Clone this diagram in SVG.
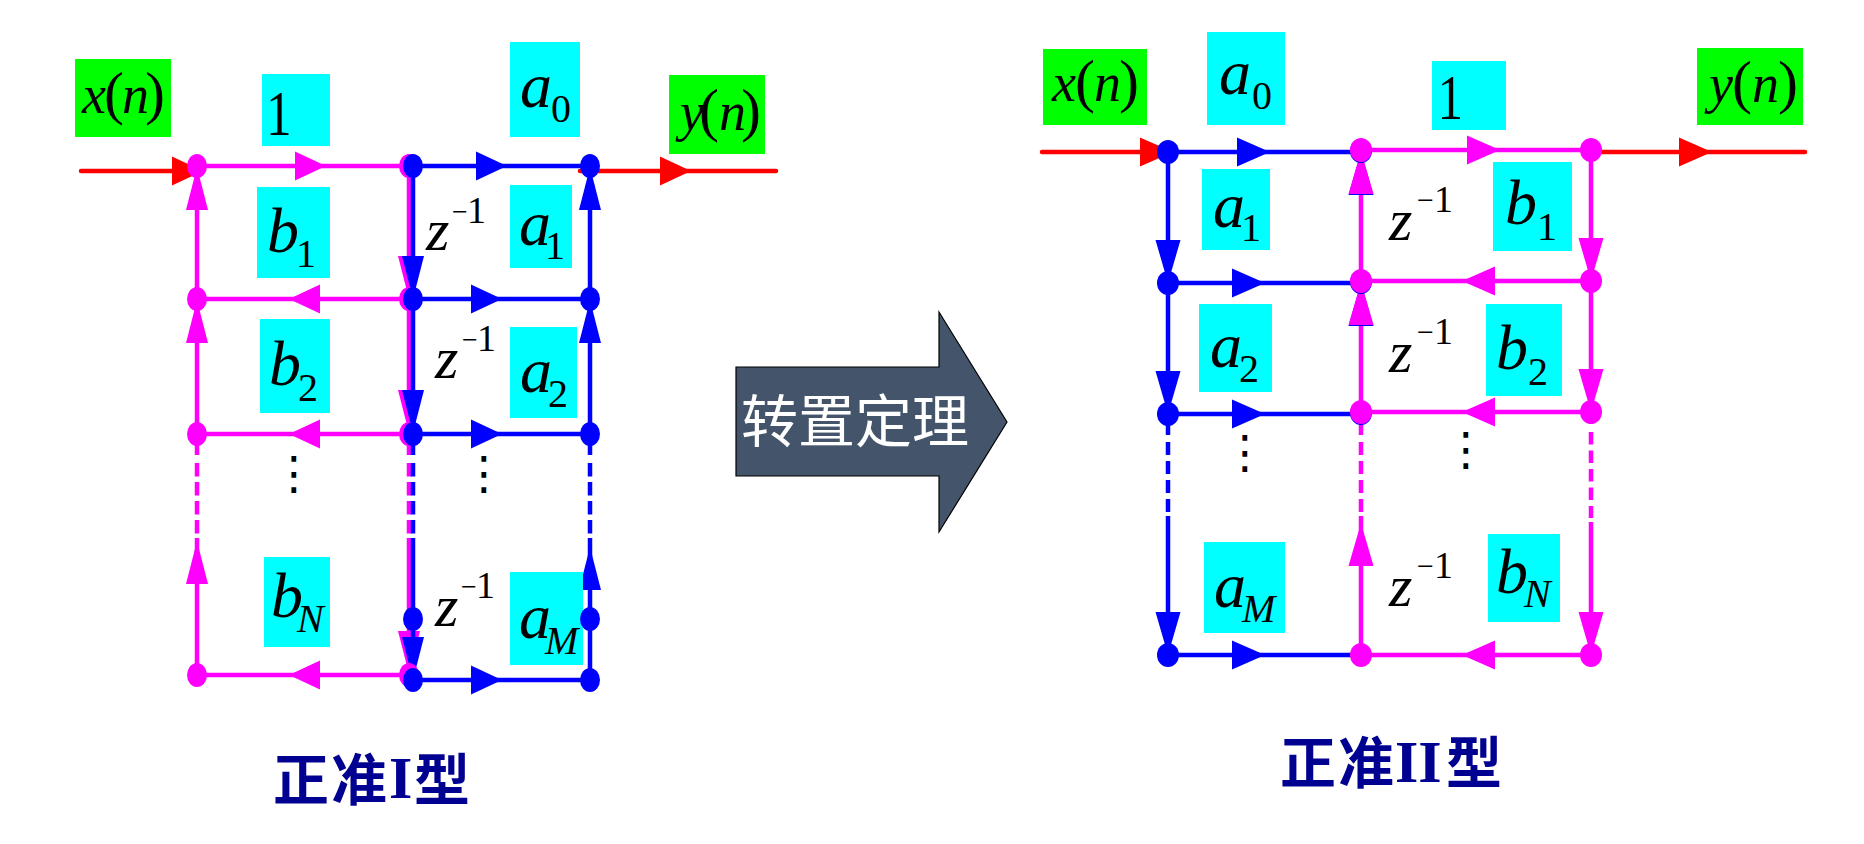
<svg xmlns="http://www.w3.org/2000/svg" width="1864" height="844" viewBox="0 0 1864 844">
<style>
text{font-family:"Liberation Serif","Noto Sans CJK SC",serif;fill:#000}
.m{font-style:italic;font-size:64px}
.n{font-size:64px}
.s{font-size:40px}
.si{font-size:40px;font-style:italic}
.io{font-style:italic;font-size:54px}
.p{font-size:60px;font-style:normal}
.z{font-style:italic;font-size:60px}
.e{font-size:38px}
.mn{font-size:28px}
.mo{font-size:30px}
.d{font-family:"DejaVu Sans",sans-serif;font-size:46px;text-anchor:middle}
.t{font-family:"Liberation Serif","Noto Sans CJK SC",sans-serif;font-size:56px;font-weight:700;fill:#000091}
.u{font-family:"Liberation Serif","Noto Sans CJK SC",sans-serif;font-size:57px;fill:#fff}
.cy{fill:#0ff}.gr{fill:#0f0}
.lm,.lb,.lr{fill:none;stroke-width:4.5}
.lm{stroke:#f0f}.lb{stroke:#00f}.lr{stroke:#f00;stroke-linecap:round}
.dl{stroke-dasharray:13.5 5.5}
.dr{stroke-dasharray:13 6}
.dq{stroke-dasharray:12.5 6}
.fm{fill:#f0f}.fb{fill:#00f}.fr{fill:#f00}
</style>
<defs>
<path id="ah" d="M0-14.5L31 0L0 14.5Z"/>
<path id="av" d="M-11 0L11 0L0 43Z"/>
<path id="bh" d="M0-14.5L33 0L0 14.5Z"/>
<path id="bv" d="M-12.5 0L12.5 0L0 43Z"/>
<ellipse id="dotL" rx="10" ry="12"/>
<ellipse id="dotR" rx="11" ry="12"/>
</defs>
<g id="connectors">
<path class="lr" d="M81 171H197M580 171H776"/>
<path class="lm" d="M197 166H411M197 299H411M197 434H411M197 675H411M197 166V455M197 538V675M409 166V455M409 538V675"/>
<path class="lm dl" d="M197 463V534M409 463V534"/>
<path class="lb" d="M413 166H590M413 299H590M413 434H590M413 680H590M413 166V455M413 538V680M590 166V455M590 538V680"/>
<path class="lb dl" d="M413 463V534M590 463V534"/>
<use href="#ah" class="fr" transform="translate(172 171)"/>
<use href="#ah" class="fr" transform="translate(660 171)"/>
<use href="#ah" class="fm" transform="translate(295 166)"/>
<use href="#ah" class="fm" transform="translate(320 299) rotate(180)"/>
<use href="#ah" class="fm" transform="translate(320 434) rotate(180)"/>
<use href="#ah" class="fm" transform="translate(320 675) rotate(180)"/>
<use href="#ah" class="fb" transform="translate(476 166)"/>
<use href="#ah" class="fb" transform="translate(471 299)"/>
<use href="#ah" class="fb" transform="translate(471 434)"/>
<use href="#ah" class="fb" transform="translate(471 680)"/>
<use href="#av" class="fm" transform="translate(197 210) rotate(180)"/>
<use href="#av" class="fm" transform="translate(197 343) rotate(180)"/>
<use href="#av" class="fm" transform="translate(197 584) rotate(180)"/>
<use href="#av" class="fb" transform="translate(590 210) rotate(180)"/>
<use href="#av" class="fb" transform="translate(590 343) rotate(180)"/>
<use href="#av" class="fb" transform="translate(590 590) rotate(180)"/>
<use href="#av" class="fm" transform="translate(409 256)"/>
<use href="#av" class="fm" transform="translate(409 390)"/>
<use href="#av" class="fm" transform="translate(409 631)"/>
<path class="lb" d="M413 631V640"/>
<use href="#av" class="fb" transform="translate(413 256)"/>
<use href="#av" class="fb" transform="translate(413 390)"/>
<use href="#av" class="fb" transform="translate(413 637)"/>

<path class="lr" d="M1042 152H1168M1591 152H1805"/>
<path class="lb" d="M1168 152H1361M1168 283H1361M1168 414H1361M1168 655H1361M1168 152V435M1168 516V655"/>
<path class="lb dr" d="M1168 442V512"/>
<path class="lm" d="M1361 150H1591M1361 281H1591M1361 412H1591M1361 655H1591M1361 150V435M1361 516V655M1591 150V424M1591 522V655"/>
<path class="lm dr" d="M1361 442V512"/>
<path class="lm dq" d="M1591 432V518"/>
<use href="#bh" class="fr" transform="translate(1140 152)"/>
<use href="#bh" class="fr" transform="translate(1679 152)"/>
<use href="#bh" class="fb" transform="translate(1237 152)"/>
<use href="#bh" class="fb" transform="translate(1232 283)"/>
<use href="#bh" class="fb" transform="translate(1232 414)"/>
<use href="#bh" class="fb" transform="translate(1232 655)"/>
<use href="#bh" class="fm" transform="translate(1467 150)"/>
<use href="#bh" class="fm" transform="translate(1495 281) rotate(180)"/>
<use href="#bh" class="fm" transform="translate(1495 412) rotate(180)"/>
<use href="#bh" class="fm" transform="translate(1495 655) rotate(180)"/>
<use href="#bv" class="fb" transform="translate(1168 240)"/>
<use href="#bv" class="fb" transform="translate(1168 371)"/>
<use href="#bv" class="fb" transform="translate(1168 612)"/>
<use href="#bv" class="fm" transform="translate(1591 238)"/>
<use href="#bv" class="fm" transform="translate(1591 369)"/>
<use href="#bv" class="fm" transform="translate(1591 612)"/>
<use href="#bv" class="fb" transform="translate(1361 195) rotate(180)"/>
<use href="#bv" class="fb" transform="translate(1361 326) rotate(180)"/>
<use href="#bv" class="fm" transform="translate(1361 194) rotate(180)"/>
<use href="#bv" class="fm" transform="translate(1361 325) rotate(180)"/>
<use href="#bv" class="fm" transform="translate(1361 566) rotate(180)"/>
</g>

<g id="canonical-1">
<g id="l-xn"><rect class="gr" x="75" y="59" width="96" height="78"/><text x="82" y="113" class="io">x<tspan x="104" class="p">(</tspan><tspan x="122">n</tspan><tspan x="145" class="p">)</tspan></text></g>
<g id="l-yn"><rect class="gr" x="669" y="75" width="96" height="79"/><text x="680" y="130" class="io">y<tspan x="699" class="p">(</tspan><tspan x="719">n</tspan><tspan x="741" class="p">)</tspan></text></g>
<g id="l-1"><rect class="cy" x="262" y="74" width="68" height="72"/><text transform="translate(266 135) scale(.8 1)" class="n">1</text></g>
<g id="l-b1"><rect class="cy" x="257" y="187" width="73" height="91"/><text x="267" y="252" class="m">b</text><text x="296" y="267" class="s">1</text></g>
<g id="l-b2"><rect class="cy" x="260" y="319" width="70" height="94"/><text x="269" y="385" class="m">b</text><text x="298" y="401" class="s">2</text></g>
<g id="l-bN"><rect class="cy" x="264" y="557" width="66" height="90"/><text x="271" y="617" class="m">b</text><text x="297" y="632" class="si">N</text></g>
<g id="l-a0"><rect class="cy" x="510" y="42" width="70" height="95"/><text x="520" y="107" class="m">a</text><text x="551" y="122" class="s">0</text></g>
<g id="l-a1"><rect class="cy" x="510" y="185" width="62" height="83"/><text x="519" y="245" class="m">a</text><text x="545" y="259" class="s">1</text></g>
<g id="l-a2"><rect class="cy" x="510" y="327" width="67" height="91"/><text x="520" y="392" class="m">a</text><text x="548" y="407" class="s">2</text></g>
<g id="l-aM"><rect class="cy" x="510" y="572" width="73" height="93"/><text x="519" y="638" class="m">a</text><text x="545" y="654" class="si">M</text></g>
<g id="l-z1"><text x="426" y="250" class="z">z</text><text x="452" y="220.5" class="mn">−<tspan x="467" y="223" class="e">1</tspan></text></g>
<g id="l-z2"><text x="435" y="378" class="z">z</text><text x="462" y="348.5" class="mn">−<tspan x="477" y="351" class="e">1</tspan></text></g>
<g id="l-z3"><text x="435" y="626" class="z">z</text><text x="461" y="595.5" class="mn">−<tspan x="476" y="598" class="e">1</tspan></text></g>
<g id="l-dots1"><text x="294" y="489" class="d">⋮</text></g>
<g id="l-dots2"><text x="484" y="489" class="d">⋮</text></g>
<g id="n1"><use href="#dotL" class="fm" transform="translate(197 166)"/></g>
<g id="n2"><use href="#dotL" class="fm" transform="translate(197 299)"/></g>
<g id="n3"><use href="#dotL" class="fm" transform="translate(197 434)"/></g>
<g id="n4"><use href="#dotL" class="fm" transform="translate(197 675)"/></g>
<g id="n5"><use href="#dotL" class="fm" transform="translate(409 166)"/><use href="#dotL" class="fb" transform="translate(413 166)"/></g>
<g id="n6"><use href="#dotL" class="fm" transform="translate(409 299)"/><use href="#dotL" class="fb" transform="translate(413 299)"/></g>
<g id="n7"><use href="#dotL" class="fm" transform="translate(409 434)"/><use href="#dotL" class="fb" transform="translate(413 434)"/></g>
<g id="n8"><use href="#dotL" class="fb" transform="translate(413 619)"/></g>
<g id="n9"><use href="#dotL" class="fm" transform="translate(409 675)"/><use href="#dotL" class="fb" transform="translate(413 680)"/></g>
<g id="n10"><use href="#dotL" class="fb" transform="translate(590 166)"/></g>
<g id="n11"><use href="#dotL" class="fb" transform="translate(590 299)"/></g>
<g id="n12"><use href="#dotL" class="fb" transform="translate(590 434)"/></g>
<g id="n13"><use href="#dotL" class="fb" transform="translate(590 619)"/></g>
<g id="n14"><use href="#dotL" class="fb" transform="translate(590 680)"/></g>
<g id="title-1"><text class="t" y="800"><tspan x="273">正</tspan><tspan x="331">准</tspan><tspan x="389" y="798" font-size="60">I</tspan><tspan x="414" y="800">型</tspan></text></g>
</g>

<g id="transpose-arrow">
<path d="M736 367H939V312L1007 422L939 532V476H736Z" fill="#44546a" stroke="#000" stroke-width="1.2"/>
<text class="u" y="442"><tspan x="741">转</tspan><tspan x="798">置</tspan><tspan x="855">定</tspan><tspan x="912">理</tspan></text>
</g>

<g id="canonical-2">
<g id="r-xn"><rect class="gr" x="1043" y="49" width="104" height="76"/><text x="1052" y="101" class="io">x<tspan x="1075" class="p">(</tspan><tspan x="1094">n</tspan><tspan x="1119" class="p">)</tspan></text></g>
<g id="r-yn"><rect class="gr" x="1697" y="48" width="106" height="77"/><text x="1709" y="102" class="io">y<tspan x="1732" class="p">(</tspan><tspan x="1752">n</tspan><tspan x="1778" class="p">)</tspan></text></g>
<g id="r-a0"><rect class="cy" x="1207" y="32" width="78" height="93"/><text x="1219" y="94" class="m">a</text><text x="1252" y="109" class="s">0</text></g>
<g id="r-1"><rect class="cy" x="1432" y="61" width="74" height="69"/><text transform="translate(1437.5 119) scale(.8 1)" class="n">1</text></g>
<g id="r-a1"><rect class="cy" x="1202" y="169" width="68" height="81"/><text x="1213" y="227" class="m">a</text><text x="1241" y="241" class="s">1</text></g>
<g id="r-a2"><rect class="cy" x="1199" y="304" width="73" height="88"/><text x="1210" y="367" class="m">a</text><text x="1239" y="382" class="s">2</text></g>
<g id="r-aM"><rect class="cy" x="1204" y="542" width="81" height="91"/><text x="1214" y="607" class="m">a</text><text x="1242" y="622" class="si">M</text></g>
<g id="r-b1"><rect class="cy" x="1493" y="162" width="79" height="89"/><text x="1505" y="224" class="m">b</text><text x="1537" y="240" class="s">1</text></g>
<g id="r-b2"><rect class="cy" x="1486" y="304" width="76" height="92"/><text x="1496" y="369" class="m">b</text><text x="1528" y="385" class="s">2</text></g>
<g id="r-bN"><rect class="cy" x="1488" y="534" width="72" height="88"/><text x="1496" y="593" class="m">b</text><text x="1524" y="607" class="si">N</text></g>
<g id="r-z1"><text x="1389" y="240" class="z">z</text><text x="1417" y="209.5" class="mo">−<tspan x="1434" y="212" class="e">1</tspan></text></g>
<g id="r-z2"><text x="1389" y="372" class="z">z</text><text x="1417" y="341.5" class="mo">−<tspan x="1434" y="344" class="e">1</tspan></text></g>
<g id="r-z3"><text x="1389" y="606" class="z">z</text><text x="1417" y="575.5" class="mo">−<tspan x="1434" y="578" class="e">1</tspan></text></g>
<g id="r-dots1"><text x="1245" y="468" class="d">⋮</text></g>
<g id="r-dots2"><text x="1466" y="465" class="d">⋮</text></g>
<g id="m1"><use href="#dotR" class="fb" transform="translate(1168 152)"/></g>
<g id="m2"><use href="#dotR" class="fb" transform="translate(1168 283)"/></g>
<g id="m3"><use href="#dotR" class="fb" transform="translate(1168 414)"/></g>
<g id="m4"><use href="#dotR" class="fb" transform="translate(1168 655)"/></g>
<g id="m5"><use href="#dotR" class="fb" transform="translate(1361 151)"/><use href="#dotR" class="fm" transform="translate(1361 150)"/></g>
<g id="m6"><use href="#dotR" class="fb" transform="translate(1361 282)"/><use href="#dotR" class="fm" transform="translate(1361 281)"/></g>
<g id="m7"><use href="#dotR" class="fb" transform="translate(1361 413)"/><use href="#dotR" class="fm" transform="translate(1361 412)"/></g>
<g id="m8"><use href="#dotR" class="fm" transform="translate(1361 655)"/></g>
<g id="m9"><use href="#dotR" class="fm" transform="translate(1591 150)"/></g>
<g id="m10"><use href="#dotR" class="fm" transform="translate(1591 281)"/></g>
<g id="m11"><use href="#dotR" class="fm" transform="translate(1591 412)"/></g>
<g id="m12"><use href="#dotR" class="fm" transform="translate(1591 655)"/></g>
<g id="title-2"><text class="t" y="783"><tspan x="1280">正</tspan><tspan x="1338">准</tspan><tspan x="1395" y="782" font-size="60">II</tspan><tspan x="1446" y="783">型</tspan></text></g>
</g>
</svg>
